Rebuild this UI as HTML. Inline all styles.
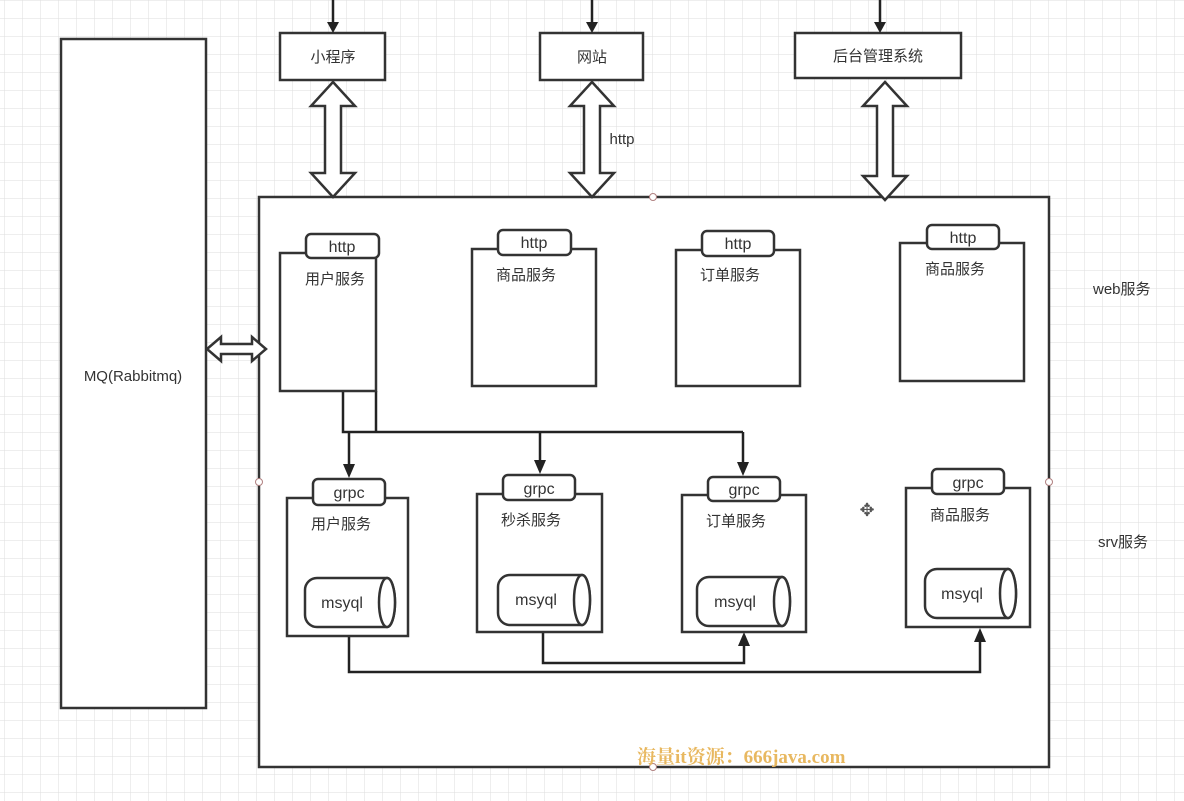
<!DOCTYPE html>
<html><head><meta charset="utf-8"><style>
html,body{margin:0;padding:0;background:#fff}
svg{display:block}
text{font-family:"Liberation Sans","Noto Sans CJK SC",sans-serif;fill:#333}
</style></head><body>
<svg width="1184" height="801" viewBox="0 0 1184 801" xmlns="http://www.w3.org/2000/svg">
<defs>
<pattern id="g" x="5" y="1" width="18" height="18" patternUnits="userSpaceOnUse">
<path d="M18 0V18M0 18H18" stroke="#dedede" stroke-width="1" fill="none"/>
</pattern>
</defs>
<rect width="1184" height="801" fill="url(#g)"/>
<g stroke="#333" stroke-width="2.5" fill="#fff">
<rect x="61" y="39" width="145" height="669"/>
<rect x="259" y="197" width="790" height="570"/>
<rect x="280" y="33" width="105" height="47"/>
<rect x="540" y="33" width="103" height="47"/>
<rect x="795" y="33" width="166" height="45"/>
</g>
<g stroke="#222" stroke-width="2.5">
<line x1="333" y1="0" x2="333" y2="25"/>
<line x1="592" y1="0" x2="592" y2="25"/>
<line x1="880" y1="0" x2="880" y2="25"/>
</g>
<g fill="#222">
<polygon points="327,22 339,22 333,33"/>
<polygon points="586,22 598,22 592,33"/>
<polygon points="874,22 886,22 880,33"/>
</g>
<g stroke="#333" stroke-width="2.5" fill="#fff">
<polygon points="333,82 355,106 341,106 341,173 355,173 333,197 311,173 325,173 325,106 311,106"/>
<polygon points="592,82 614,106 600,106 600,173 614,173 592,197 570,173 584,173 584,106 570,106"/>
<polygon points="885,82 907,106 893,106 893,176 907,176 885,200 863,176 877,176 877,106 863,106"/>
<polygon points="207,349 221,337 221,344 252,344 252,337 266,349 252,361 252,354 221,354 221,361"/>
</g>
<text x="622" y="144" font-size="15" text-anchor="middle">http</text>
<text x="333" y="62" font-size="15" text-anchor="middle">小程序</text>
<text x="592" y="62" font-size="15" text-anchor="middle">网站</text>
<text x="878" y="61" font-size="15" text-anchor="middle">后台管理系统</text>
<text x="133" y="381" font-size="15" text-anchor="middle">MQ(Rabbitmq)</text>
<text x="1093" y="294" font-size="15">web服务</text>
<text x="1098" y="547" font-size="15">srv服务</text>
<g stroke="#222" stroke-width="2.5" fill="none">
<polyline points="343,391 343,432 743,432"/>
<polyline points="376,391 376,432"/>
<line x1="349" y1="432" x2="349" y2="468"/>
<line x1="540" y1="432" x2="540" y2="464"/>
<line x1="743" y1="432" x2="743" y2="466"/>
<polyline points="349,636 349,672 980,672 980,640"/>
<polyline points="543,625 543,663 744,663 744,644"/>
</g>
<g fill="#222">
<polygon points="343,464 355,464 349,478"/>
<polygon points="534,460 546,460 540,474"/>
<polygon points="737,462 749,462 743,476"/>
<polygon points="974,642 986,642 980,628"/>
<polygon points="738,646 750,646 744,632"/>
</g>
<g stroke="#333" stroke-width="2.5" fill="#fff">
<rect x="280" y="253" width="96" height="138"/>
<rect x="306" y="234" width="73" height="24" rx="5"/>
<rect x="472" y="249" width="124" height="137"/>
<rect x="498" y="230" width="73" height="25" rx="5"/>
<rect x="676" y="250" width="124" height="136"/>
<rect x="702" y="231" width="72" height="25" rx="5"/>
<rect x="900" y="243" width="124" height="138"/>
<rect x="927" y="225" width="72" height="24" rx="5"/>
<rect x="287" y="498" width="121" height="138"/>
<rect x="313" y="479" width="72" height="26" rx="5"/>
<rect x="477" y="494" width="125" height="138"/>
<rect x="503" y="475" width="72" height="25" rx="5"/>
<rect x="682" y="495" width="124" height="137"/>
<rect x="708" y="477" width="72" height="24" rx="5"/>
<rect x="906" y="488" width="124" height="139"/>
<rect x="932" y="469" width="72" height="25" rx="5"/>
</g>
<g font-size="16" text-anchor="middle">
<text x="342" y="252">http</text><text x="534" y="248">http</text><text x="738" y="249">http</text><text x="963" y="243">http</text>
<text x="349" y="498">grpc</text><text x="539" y="494">grpc</text><text x="744" y="495">grpc</text><text x="968" y="488">grpc</text>
</g>
<g font-size="15">
<text x="305" y="284">用户服务</text><text x="496" y="280">商品服务</text><text x="700" y="280">订单服务</text><text x="925" y="274">商品服务</text>
<text x="311" y="529">用户服务</text><text x="501" y="525">秒杀服务</text><text x="706" y="526">订单服务</text><text x="930" y="520">商品服务</text>
</g>
<g stroke="#333" stroke-width="2.5" fill="#fff">
<path d="M317,578 H387 A8,24.5 0 0 1 387,627 H317 A12,12 0 0 1 305,615 V590 A12,12 0 0 1 317,578Z"/>
<ellipse cx="387" cy="602.5" rx="8" ry="24.5"/>
<path d="M510,575 H582 A8,25 0 0 1 582,625 H510 A12,12 0 0 1 498,613 V587 A12,12 0 0 1 510,575Z"/>
<ellipse cx="582" cy="600" rx="8" ry="25"/>
<path d="M709,577 H782 A8,24.5 0 0 1 782,626 H709 A12,12 0 0 1 697,614 V589 A12,12 0 0 1 709,577Z"/>
<ellipse cx="782" cy="601.5" rx="8" ry="24.5"/>
<path d="M937,569 H1008 A8,24.5 0 0 1 1008,618 H937 A12,12 0 0 1 925,606 V581 A12,12 0 0 1 937,569Z"/>
<ellipse cx="1008" cy="593.5" rx="8" ry="24.5"/>
</g>
<g font-size="16" text-anchor="middle">
<text x="342" y="608">msyql</text><text x="536" y="605">msyql</text><text x="735" y="607">msyql</text><text x="962" y="599">msyql</text>
</g>
<g fill="#fff" stroke="#b08080" stroke-width="1">
<circle cx="653" cy="197" r="3.5"/><circle cx="259" cy="482" r="3.5"/><circle cx="1049" cy="482" r="3.5"/><circle cx="653" cy="767" r="3.5"/>
</g>
<text x="867" y="516" font-size="18" text-anchor="middle" style="fill:#555">✥</text>
<text x="637" y="763" font-size="19" font-weight="bold" style="fill:#e8b860;font-family:'Liberation Serif','Noto Serif CJK SC',serif">海量it资源：666java.com</text>
</svg>
</body></html>
